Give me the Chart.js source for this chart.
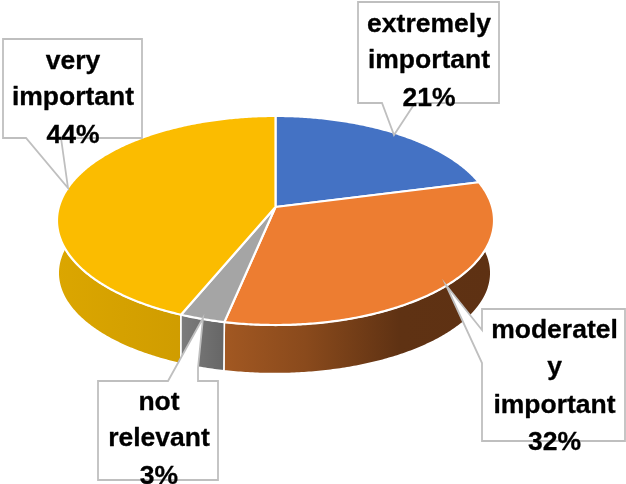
<!DOCTYPE html>
<html>
<head>
<meta charset="utf-8">
<style>html,body{margin:0;padding:0;background:#fff}canvas{display:block}</style>
<script src="https://cdn.jsdelivr.net/npm/chart.js@4"></script>
</head>
<body>
<canvas id="c" width="626" height="484"></canvas>
<script>
const categories = ["extremely important","moderately important","not relevant","very important"];
const values = [21,32,3,44];
const wrappedNames = [["extremely","important"],["moderatel","y","important"],["not","relevant"],["very","important"]];
const faceColors = ["#4472C4","#ED7D31","#A5A5A5","#FBBC00"];
const sideStops = [
  [[0,"#2F5597"],[1,"#2F5597"]],
  [[0,"#A25822"],[0.3,"#8A4A1C"],[0.65,"#5F3213"],[1,"#5E3113"]],
  [[0,"#7C7C7C"],[1,"#666666"]],
  [[0,"#DBA600"],[0.6,"#CF9C00"],[1,"#BE8E00"]]
];
// callout layout: outline polygon, centre x of text, baselines
const callouts = [
  {pts:[[358,2],[499,2],[499,103],[415,103],[394,135],[382,103],[358,103]],cx:429,base:[32,68,106]},
  {pts:[[482,309],[625,309],[625,441],[482,441],[482,363],[446,285],[482,330]],cx:554.5,base:[338,375,413,450]},
  {pts:[[98,381],[168,381],[203,318],[198,368],[198,381],[218,381],[218,480],[98,480]],cx:159,base:[410,446,484]},
  {pts:[[3,39],[142,39],[142,138],[61,138],[68,188],[26,138],[3,138]],cx:73,base:[69,105,143]}
];
const top_ = {cx:275.5,ay:207,a:216.7,b:102.8,k:0.129};
const bot_ = {cx:274.5,ay:260,a:214.5,b:99,k:0.129};
function proj(f,ang0){
  // slight view warp along the near rim: the outline is unchanged
  const s0=Math.max(0,Math.sin(ang0));
  const ang=ang0+0.02*s0*s0;
  const u=Math.cos(ang),v=Math.sin(ang),w=1-f.k*v;
  return [f.cx+f.a*u/w, f.ay+f.b*v/w];
}
function rim(f,s,e){
  const n=Math.max(2,Math.ceil((e-s)/0.01)),out=[];
  for(let i=0;i<=n;i++)out.push(proj(f,s+(e-s)*i/n));
  return out;
}
function poly(ctx,pts){
  ctx.beginPath();
  pts.forEach((p,i)=>i?ctx.lineTo(p[0],p[1]):ctx.moveTo(p[0],p[1]));
  ctx.closePath();
}
const pie3d = {
  id:"pie3d",
  beforeDatasetDraw(chart,args){
    const ctx=chart.ctx,arcs=chart.getDatasetMeta(args.index).data;
    ctx.save();
    ctx.lineJoin="round";
    [0,1,3,2].forEach(i=>{
      const s=arcs[i].startAngle,e=arcs[i].endAngle;
      const t=rim(top_,s,e),b=rim(bot_,s,e).reverse();
      const all=t.concat(b);
      const xs=all.map(p=>p[0]);
      const x0=Math.min(...xs),x1=Math.max(...xs);
      const g=ctx.createLinearGradient(x0,0,x1,0);
      sideStops[i].forEach(st=>g.addColorStop(st[0],st[1]));
      poly(ctx,all);
      ctx.fillStyle=g;ctx.fill();
      ctx.strokeStyle="#fff";ctx.lineWidth=1.6;ctx.stroke();
    });
    arcs.forEach((arc,i)=>{
      const pts=[[top_.cx,top_.ay]].concat(rim(top_,arc.startAngle,arc.endAngle));
      poly(ctx,pts);
      ctx.fillStyle=faceColors[i];ctx.fill();
      ctx.strokeStyle="#fff";ctx.lineWidth=2.2;ctx.stroke();
    });
    ctx.restore();
    return false;
  },
  afterDatasetsDraw(chart){
    const ctx=chart.ctx;
    ctx.save();
    callouts.forEach(c=>{
      poly(ctx,c.pts);
      ctx.fillStyle="#fff";ctx.fill();
      ctx.strokeStyle="#BFBFBF";ctx.lineWidth=1.8;ctx.lineJoin="miter";ctx.stroke();
    });
    ctx.fillStyle="#000";ctx.strokeStyle="#000";ctx.lineWidth=0.3;ctx.lineJoin="round";
    ctx.font='bold 26.5px "Liberation Sans", Arial, sans-serif';
    ctx.textAlign="center";ctx.textBaseline="alphabetic";
    callouts.forEach((c,i)=>{
      wrappedNames[i].concat(values[i]+"%").forEach((line,j)=>{
        ctx.fillText(line,c.cx,c.base[j]);
        ctx.strokeText(line,c.cx,c.base[j]);
      });
    });
    ctx.restore();
  }
};
new Chart(document.getElementById("c"),{
  type:"pie",
  data:{labels:categories,datasets:[{data:values,backgroundColor:faceColors,borderColor:"#fff",borderWidth:2}]},
  options:{responsive:false,animation:false,layout:{padding:0},
    plugins:{legend:{display:false},tooltip:{enabled:false}}},
  plugins:[pie3d]
});
</script>
</body>
</html>
